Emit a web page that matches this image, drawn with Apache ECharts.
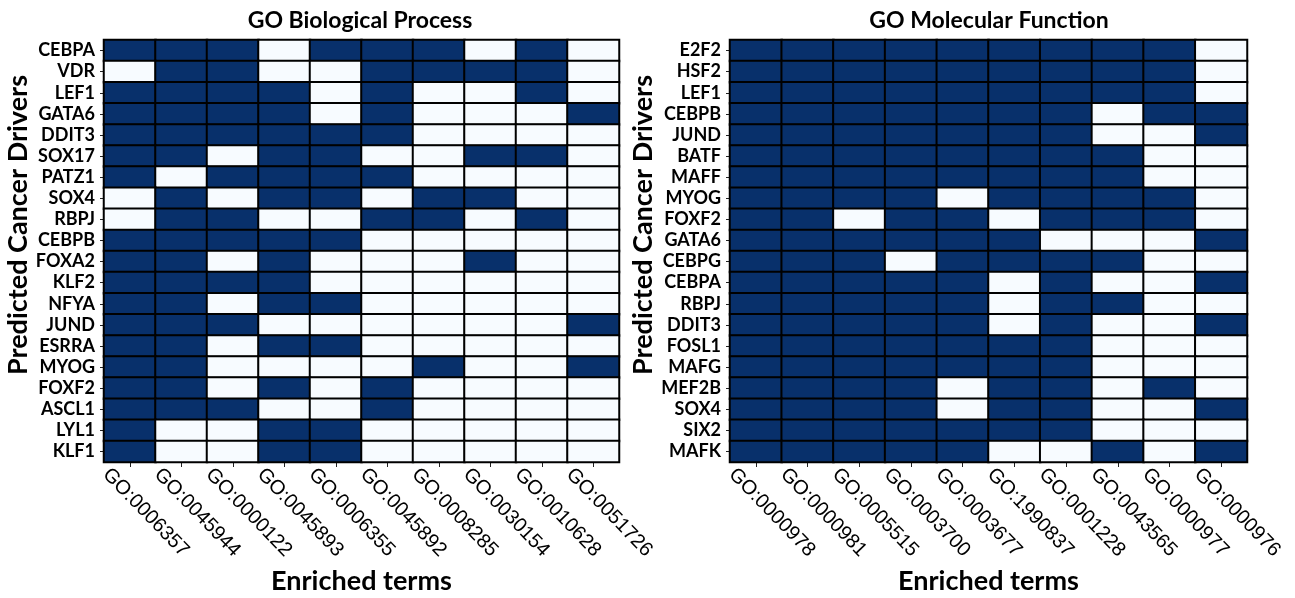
<!DOCTYPE html>
<html>
<head>
<meta charset="utf-8">
<script src="https://cdn.jsdelivr.net/npm/echarts@6/dist/echarts.min.js"></script>
<style>
  html, body { margin: 0; padding: 0; background: #fff; }
  #chart { width: 1295px; height: 598px; }
</style>
</head>
<body>
<div id="chart"></div>
<script>
// GO Biological Process panel
const bpTerms = ['GO:0006357', 'GO:0045944', 'GO:0000122', 'GO:0045893', 'GO:0006355',
                 'GO:0045892', 'GO:0008285', 'GO:0030154', 'GO:0010628', 'GO:0051726'];
const bpDrivers = ['CEBPA', 'VDR', 'LEF1', 'GATA6', 'DDIT3', 'SOX17', 'PATZ1', 'SOX4', 'RBPJ', 'CEBPB',
                   'FOXA2', 'KLF2', 'NFYA', 'JUND', 'ESRRA', 'MYOG', 'FOXF2', 'ASCL1', 'LYL1', 'KLF1'];
// 1 = term enriched for the driver, 0 = not enriched (rows follow bpDrivers)
const bpMatrix = [
  [1, 1, 1, 0, 1, 1, 1, 0, 1, 0],
  [0, 1, 1, 0, 0, 1, 1, 1, 1, 0],
  [1, 1, 1, 1, 0, 1, 0, 0, 1, 0],
  [1, 1, 1, 1, 0, 1, 0, 0, 0, 1],
  [1, 1, 1, 1, 1, 1, 0, 0, 0, 0],
  [1, 1, 0, 1, 1, 0, 0, 1, 1, 0],
  [1, 0, 1, 1, 1, 1, 0, 0, 0, 0],
  [0, 1, 0, 1, 1, 0, 1, 1, 0, 0],
  [0, 1, 1, 0, 0, 1, 1, 0, 1, 0],
  [1, 1, 1, 1, 1, 0, 0, 0, 0, 0],
  [1, 1, 0, 1, 0, 0, 0, 1, 0, 0],
  [1, 1, 1, 1, 0, 0, 0, 0, 0, 0],
  [1, 1, 0, 1, 1, 0, 0, 0, 0, 0],
  [1, 1, 1, 0, 0, 0, 0, 0, 0, 1],
  [1, 1, 0, 1, 1, 0, 0, 0, 0, 0],
  [1, 1, 0, 0, 0, 0, 1, 0, 0, 1],
  [1, 1, 0, 1, 0, 1, 0, 0, 0, 0],
  [1, 1, 1, 0, 0, 1, 0, 0, 0, 0],
  [1, 0, 0, 1, 1, 0, 0, 0, 0, 0],
  [1, 0, 0, 1, 1, 0, 0, 0, 0, 0]
];

// GO Molecular Function panel
const mfTerms = ['GO:0000978', 'GO:0000981', 'GO:0005515', 'GO:0003700', 'GO:0003677',
                 'GO:1990837', 'GO:0001228', 'GO:0043565', 'GO:0000977', 'GO:0000976'];
const mfDrivers = ['E2F2', 'HSF2', 'LEF1', 'CEBPB', 'JUND', 'BATF', 'MAFF', 'MYOG', 'FOXF2', 'GATA6',
                   'CEBPG', 'CEBPA', 'RBPJ', 'DDIT3', 'FOSL1', 'MAFG', 'MEF2B', 'SOX4', 'SIX2', 'MAFK'];
const mfMatrix = [
  [1, 1, 1, 1, 1, 1, 1, 1, 1, 0],
  [1, 1, 1, 1, 1, 1, 1, 1, 1, 0],
  [1, 1, 1, 1, 1, 1, 1, 1, 1, 0],
  [1, 1, 1, 1, 1, 1, 1, 0, 1, 1],
  [1, 1, 1, 1, 1, 1, 1, 0, 0, 1],
  [1, 1, 1, 1, 1, 1, 1, 1, 0, 0],
  [1, 1, 1, 1, 1, 1, 1, 1, 0, 0],
  [1, 1, 1, 1, 0, 1, 1, 1, 1, 0],
  [1, 1, 0, 1, 1, 0, 1, 1, 1, 0],
  [1, 1, 1, 1, 1, 1, 0, 0, 0, 1],
  [1, 1, 1, 0, 1, 1, 1, 1, 0, 0],
  [1, 1, 1, 1, 1, 0, 1, 0, 0, 1],
  [1, 1, 1, 1, 1, 0, 1, 1, 0, 0],
  [1, 1, 1, 1, 1, 0, 1, 0, 0, 1],
  [1, 1, 1, 1, 1, 1, 1, 0, 0, 0],
  [1, 1, 1, 1, 1, 1, 1, 0, 0, 0],
  [1, 1, 1, 1, 0, 1, 1, 0, 1, 0],
  [1, 1, 1, 1, 0, 1, 1, 0, 0, 1],
  [1, 1, 1, 1, 1, 1, 1, 0, 0, 0],
  [1, 1, 1, 1, 1, 0, 0, 1, 0, 1]
];

const panelTitles = ['GO Biological Process', 'GO Molecular Function'];
const xTitle = 'Enriched terms';
const yTitle = 'Predicted Cancer Drivers';

const HEAD_FONT = 'Lato, "Open Sans", sans-serif';
const TICK_FONT = '"Liberation Sans", Arial, sans-serif';

function toCells(matrix) {
  const cells = [];
  matrix.forEach((row, r) => row.forEach((v, c) => cells.push([c, r, v])));
  return cells;
}

const grids = [
  { left: 104, top: 40, width: 515, height: 422, outerBoundsMode: 'none', containLabel: false },
  { left: 730, top: 40, width: 517, height: 422, outerBoundsMode: 'none', containLabel: false }
];

function xAxisFor(idx, terms) {
  return {
    type: 'category', gridIndex: idx, data: terms,
    name: xTitle, nameLocation: 'middle', nameGap: 106,
    nameTextStyle: { fontFamily: HEAD_FONT, fontWeight: 'bold', fontSize: 27, color: '#000' },
    axisLine: { show: true, lineStyle: { color: '#000', width: 1 } },
    axisTick: { show: true, alignWithLabel: true, length: 5, lineStyle: { color: '#222' } },
    axisLabel: {
      rotate: -46, interval: 0, margin: 34, align: 'center', padding: [0, 0, 0, 46],
      fontFamily: TICK_FONT, fontSize: 20, color: '#000'
    },
    splitLine: { show: false }
  };
}

function yAxisFor(idx, drivers) {
  return {
    type: 'category', gridIndex: idx, data: drivers, inverse: true,
    name: yTitle, nameLocation: 'middle', nameGap: idx === 0 ? 72 : 73, nameRotate: 90,
    nameTextStyle: {
      fontFamily: HEAD_FONT, fontWeight: 'bold', fontSize: 27, color: '#000',
      padding: [0, 0, 0, 52]
    },
    axisLine: { show: true, lineStyle: { color: '#000', width: 1 } },
    axisTick: { show: true, alignWithLabel: true, length: 4, lineStyle: { color: '#222' } },
    axisLabel: { interval: 0, margin: 9, fontFamily: HEAD_FONT, fontWeight: 'bold', fontSize: 18, color: '#000' },
    splitLine: { show: false }
  };
}

const cellStyle = { borderColor: '#000', borderWidth: 2 };

const option = {
  backgroundColor: '#fff',
  animation: false,
  title: [
    { text: panelTitles[0], left: 355, top: 4, textAlign: 'center',
      textStyle: { fontFamily: HEAD_FONT, fontWeight: 'bold', fontSize: 23, color: '#000' } },
    { text: panelTitles[1], left: 984, top: 4, textAlign: 'center',
      textStyle: { fontFamily: HEAD_FONT, fontWeight: 'bold', fontSize: 23, color: '#000' } }
  ],
  grid: grids,
  xAxis: [xAxisFor(0, bpTerms), xAxisFor(1, mfTerms)],
  yAxis: [yAxisFor(0, bpDrivers), yAxisFor(1, mfDrivers)],
  visualMap: {
    show: false, min: 0, max: 1, seriesIndex: [0, 1],
    inRange: { color: ['#f7fbff', '#08306b'] }
  },
  series: [
    { type: 'heatmap', xAxisIndex: 0, yAxisIndex: 0, data: toCells(bpMatrix), itemStyle: cellStyle },
    { type: 'heatmap', xAxisIndex: 1, yAxisIndex: 1, data: toCells(mfMatrix), itemStyle: cellStyle }
  ]
};

const chart = echarts.init(document.getElementById('chart'), null, { renderer: 'canvas' });
chart.setOption(option);
</script>
</body>
</html>
